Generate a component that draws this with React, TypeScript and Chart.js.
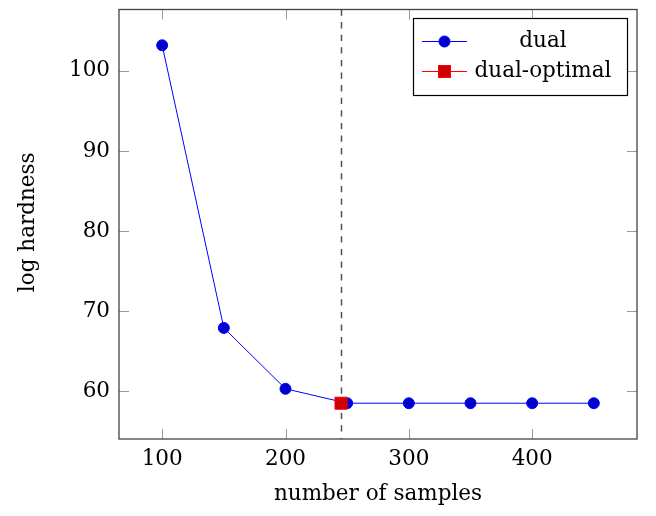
import { useEffect, useRef } from 'react';
import { Chart, registerables } from 'chart.js';

Chart.register(...registerables);

// Hardness of the dual attack as the number of samples grows
const samples = [100, 150, 200, 250, 300, 350, 400, 450];
const dualHardness = [103.2, 67.9, 60.3, 58.5, 58.5, 58.5, 58.5, 58.5];
// Optimal number of samples found by the optimiser
const optimalSamples = [245];
const optimalHardness = [58.5];

const xTicks = [100, 200, 300, 400];
const yTicks = [60, 70, 80, 90, 100];
const xTitle = 'number of samples';
const yTitle = 'log hardness';
const seriesNames = ['dual', 'dual-optimal'];

const FONT = '"DejaVu Serif", serif';
const FONT_SIZE = 21.5;
const TEXT = '#000000';
const BLUE = '#0000ff';
const BLUE_FILL = '#0000cc';
const RED = '#ff0000';
const RED_FILL = '#cc0000';

// axis limits enlarged by 10% of the data range on each side
function enlarged(values: number[]) {
  const lo = Math.min(...values);
  const hi = Math.max(...values);
  const pad = (hi - lo) * 0.1;
  return [lo - pad, hi + pad];
}

export default function App() {
  const canvasRef = useRef<HTMLCanvasElement | null>(null);

  useEffect(() => {
    const canvas = canvasRef.current;
    if (!canvas) return;

    const [xMin, xMax] = enlarged([...samples, ...optimalSamples]);
    const [yMin, yMax] = enlarged([...dualHardness, ...optimalHardness]);

    const framePlugin = {
      id: 'frame',
      beforeDatasetsDraw(chart: any) {
        const { ctx, chartArea } = chart;
        const xs = chart.scales.x;
        // vertical marker at the optimal sample count
        const vx = Math.round(xs.getPixelForValue(optimalSamples[0])) + 0.5;
        ctx.save();
        ctx.strokeStyle = '#505050';
        ctx.lineWidth = 1.5;
        ctx.setLineDash([6.3, 6.3]);
        ctx.beginPath();
        ctx.moveTo(vx, chartArea.top);
        ctx.lineTo(vx, chartArea.bottom);
        ctx.stroke();
        ctx.restore();
      },
      afterDatasetsDraw(chart: any) {
        const { ctx, chartArea } = chart;
        const { left, right, top, bottom } = chartArea;
        const xs = chart.scales.x;
        const ys = chart.scales.y;
        const tick = 10;
        ctx.save();
        // inward tick marks on all four sides
        ctx.strokeStyle = '#9a9a9a';
        ctx.lineWidth = 1;
        ctx.beginPath();
        for (const v of xTicks) {
          const px = Math.round(xs.getPixelForValue(v)) + 0.5;
          ctx.moveTo(px, bottom);
          ctx.lineTo(px, bottom - tick);
          ctx.moveTo(px, top);
          ctx.lineTo(px, top + tick);
        }
        for (const v of yTicks) {
          const py = Math.round(ys.getPixelForValue(v)) + 0.5;
          ctx.moveTo(left, py);
          ctx.lineTo(left + tick, py);
          ctx.moveTo(right, py);
          ctx.lineTo(right - tick, py);
        }
        ctx.stroke();
        // axis box
        ctx.strokeStyle = '#444444';
        ctx.lineWidth = 1.3;
        ctx.strokeRect(left, top, right - left, bottom - top);

        // axis titles
        ctx.fillStyle = TEXT;
        ctx.font = `${FONT_SIZE}px ${FONT}`;
        ctx.textAlign = 'center';
        ctx.textBaseline = 'middle';
        ctx.fillText(xTitle, (left + right) / 2, 494);
        ctx.save();
        ctx.translate(28, (top + bottom) / 2 - 2);
        ctx.rotate(-Math.PI / 2);
        ctx.fillText(yTitle, 0, 0);
        ctx.restore();

        // legend
        const lx = 413, ly = 18, lw = 214, lh = 77;
        ctx.fillStyle = '#ffffff';
        ctx.fillRect(lx, ly, lw, lh);
        ctx.strokeStyle = '#000000';
        ctx.lineWidth = 1.2;
        ctx.strokeRect(lx + 0.5, ly + 0.5, lw, lh);
        const rows = [41, 71];
        const colors = [BLUE, RED];
        rows.forEach((ry, i) => {
          ctx.strokeStyle = colors[i];
          ctx.lineWidth = 1;
          ctx.beginPath();
          ctx.moveTo(422, ry + 0.5);
          ctx.lineTo(467, ry + 0.5);
          ctx.stroke();
          if (i === 0) {
            ctx.fillStyle = BLUE_FILL;
            ctx.beginPath();
            ctx.arc(444.5, ry + 0.5, 5.5, 0, Math.PI * 2);
            ctx.fill();
            ctx.strokeStyle = BLUE;
            ctx.stroke();
          } else {
            ctx.fillStyle = RED_FILL;
            ctx.fillRect(438.5, ry - 5.5, 12, 12);
            ctx.strokeStyle = RED;
            ctx.strokeRect(438.5, ry - 5.5, 12, 12);
          }
          ctx.fillStyle = TEXT;
          ctx.font = `${FONT_SIZE}px ${FONT}`;
          ctx.textAlign = 'center';
          ctx.textBaseline = 'middle';
          ctx.fillText(seriesNames[i], 543, ry);
        });
        ctx.restore();
      },
    };

    const chart = new Chart(canvas, {
      type: 'line',
      data: {
        datasets: [
          {
            label: seriesNames[1],
            data: optimalSamples.map((x, i) => ({ x, y: optimalHardness[i] })),
            borderColor: RED,
            backgroundColor: RED_FILL,
            pointBackgroundColor: RED_FILL,
            pointBorderColor: RED,
            pointStyle: 'rect',
            pointRadius: 8.5,
            pointBorderWidth: 1,
            borderWidth: 1,
            showLine: false,
            order: 0,
          },
          {
            label: seriesNames[0],
            data: samples.map((x, i) => ({ x, y: dualHardness[i] })),
            borderColor: BLUE,
            backgroundColor: BLUE_FILL,
            pointBackgroundColor: BLUE_FILL,
            pointBorderColor: BLUE,
            pointStyle: 'circle',
            pointRadius: 5.5,
            pointBorderWidth: 1,
            borderWidth: 1,
            tension: 0,
            order: 1,
          },
        ],
      },
      options: {
        animation: false,
        responsive: false,
        maintainAspectRatio: false,
        layout: { padding: { left: 0, top: 9, right: 19, bottom: 0 } },
        plugins: {
          legend: { display: false },
          tooltip: { enabled: false },
        },
        scales: {
          x: {
            type: 'linear',
            min: xMin,
            max: xMax,
            grid: { display: false, drawTicks: false },
            border: { display: false },
            afterBuildTicks: (scale: any) => {
              scale.ticks = xTicks.map((v) => ({ value: v }));
            },
            afterFit: (scale: any) => {
              scale.height = 77;
              scale.paddingLeft = 0;
              scale.paddingRight = 0;
            },
            ticks: {
              padding: 8,
              color: TEXT,
              font: { family: FONT, size: FONT_SIZE },
              maxRotation: 0,
            },
          },
          y: {
            type: 'linear',
            min: yMin,
            max: yMax,
            grid: { display: false, drawTicks: false },
            border: { display: false },
            afterBuildTicks: (scale: any) => {
              scale.ticks = yTicks.map((v) => ({ value: v }));
            },
            afterFit: (scale: any) => {
              scale.width = 119;
              scale.paddingTop = 0;
              scale.paddingBottom = 0;
            },
            ticks: {
              padding: 9,
              color: TEXT,
              font: { family: FONT, size: FONT_SIZE },
            },
          },
        },
      },
      plugins: [framePlugin],
    });

    return () => chart.destroy();
  }, []);

  return (
    <div style={{ position: 'absolute', left: 0, top: 0, width: 656, height: 516, background: '#fff' }}>
      <canvas ref={canvasRef} width={656} height={516} style={{ display: 'block' }} />
    </div>
  );
}
